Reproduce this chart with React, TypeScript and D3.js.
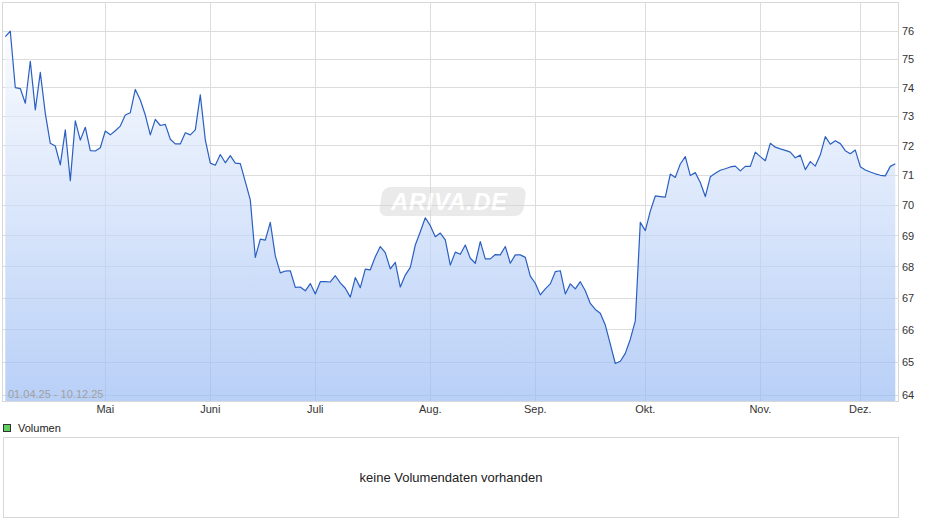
import React from "react";
import * as d3 from "d3";

// Daily closing prices (trading days), 01.04.25 - 10.12.25
const prices: number[] = [
  75.81, 76.0, 74.0, 73.97, 73.46, 74.93, 73.23, 74.54, 73.11, 72.08,
  71.99, 71.35, 72.54, 70.82, 72.85, 72.19, 72.63, 71.83, 71.82, 71.93,
  72.5, 72.37, 72.51, 72.67, 73.05, 73.13, 73.94, 73.57, 73.05, 72.37,
  72.9, 72.69, 72.73, 72.22, 72.06, 72.06, 72.44, 72.37, 72.54, 73.75,
  72.2, 71.41, 71.34, 71.7, 71.42, 71.66, 71.41, 71.39, 70.79, 70.18,
  68.3, 68.89, 68.86, 69.44, 68.35, 67.8, 67.86, 67.87, 67.34, 67.35,
  67.23, 67.46, 67.13, 67.52, 67.52, 67.51, 67.71, 67.48, 67.31, 67.03,
  67.65, 67.33, 67.92, 67.9, 68.32, 68.65, 68.45, 67.93, 68.14, 67.35,
  67.73, 67.98, 68.7, 69.13, 69.59, 69.33, 68.97, 69.09, 68.87, 68.05,
  68.47, 68.4, 68.7, 68.27, 68.11, 68.81, 68.25, 68.25, 68.39, 68.38,
  68.65, 68.11, 68.38, 68.38, 68.3, 67.7, 67.47, 67.1, 67.29, 67.45,
  67.84, 67.87, 67.13, 67.45, 67.29, 67.52, 67.23, 66.83, 66.64, 66.52,
  66.15, 65.56, 64.96, 65.03, 65.27, 65.71, 66.28, 69.44, 69.17, 69.81,
  70.31, 70.29, 70.27, 71.04, 70.93, 71.38, 71.63, 70.99, 71.09, 70.76,
  70.29, 70.95, 71.07, 71.17, 71.22, 71.28, 71.31, 71.15, 71.3, 71.3,
  71.78, 71.63, 71.49, 72.08, 71.95, 71.89, 71.84, 71.78, 71.59, 71.68,
  71.19, 71.46, 71.31, 71.69, 72.31, 72.05, 72.17, 72.07, 71.83, 71.73,
  71.85, 71.29, 71.18, 71.11, 71.05, 71.0, 70.98, 71.3, 71.39,
];

// Month labels and the trading-day index of each month's first session
const monthLabels: string[] = ["Mai", "Juni", "Juli", "Aug.", "Sep.", "Okt.", "Nov.", "Dez."];
const monthStartIdx: number[] = [20, 41, 62, 85, 106, 128, 151, 171];

// Price axis ticks (logarithmic scale)
const yTicks: number[] = [64, 65, 66, 67, 68, 69, 70, 71, 72, 73, 74, 75, 76];
const yDomain: number[] = [63.81, 77.01];

const rangeLabel = "01.04.25 - 10.12.25";
const legendLabel = "Volumen";
const noVolumeText = "keine Volumendaten vorhanden";

const FONT = "'Liberation Sans', Arial, Helvetica, sans-serif";

export default function App() {
  const W = 940;
  const H = 526;
  const L = 3, T = 3, R = 898, B = 401;

  const x = d3.scaleLinear().domain([0, prices.length - 1]).range([5.3, 895.3]);
  const y = d3.scaleLog().domain(yDomain).range([401.3, 3.3]);

  const area = d3
    .area<number>()
    .x((_, i) => x(i))
    .y0(B)
    .y1((d) => y(d));
  const line = d3
    .line<number>()
    .x((_, i) => x(i))
    .y((d) => y(d));

  const crisp = (v: number) => Math.floor(v) + 0.5;

  return (
    <svg
      width={W}
      height={H}
      viewBox={`0 0 ${W} ${H}`}
      style={{ position: "absolute", left: 0, top: 0, background: "#fff" }}
    >
      <defs>
        <linearGradient id="fillGrad" gradientUnits="userSpaceOnUse" x1="0" y1={T} x2="0" y2={B}>
          <stop offset="0" stopColor="#ffffff" />
          <stop offset="1" stopColor="#97b9f3" />
        </linearGradient>
      </defs>
      <rect x={0} y={0} width={W} height={H} fill="#fff" />

      {/* grid */}
      <g stroke="#dcdcdc" strokeWidth={1} shapeRendering="crispEdges">
        {yTicks.map((t) => (
          <line key={"h" + t} x1={L} x2={R} y1={crisp(y(t))} y2={crisp(y(t))} />
        ))}
        {monthStartIdx.map((m) => (
          <line key={"v" + m} x1={crisp(x(m))} x2={crisp(x(m))} y1={T} y2={B} />
        ))}
      </g>

      {/* watermark */}
      <g opacity={0.5}>
        <rect x={381} y={187} width={144} height={29} rx={8} ry={8} fill="#d6d6d6" transform="skewX(-8) translate(28,0)" />
        <text
          x={391}
          y={210}
          fontFamily={FONT}
          fontSize={24}
          fontWeight="bold"
          fontStyle="italic"
          fill="#ffffff"
          textLength={116}
        >
          ARIVA.DE
        </text>
      </g>

      {/* area and line */}
      <path d={area(prices) || ""} fill="url(#fillGrad)" fillOpacity={0.68} />
      <path d={line(prices) || ""} fill="none" stroke="#2a5fc2" strokeWidth={1.2} strokeLinejoin="round" />

      {/* frame */}
      <rect x={L + 0.5 - 1} y={T + 0.5 - 1} width={R - L + 1} height={B - T + 1} fill="none" stroke="#d8d8d8" shapeRendering="crispEdges" />

      {/* y labels */}
      <g fontFamily={FONT} fontSize={11} fill="#333">
        {yTicks.map((t) => (
          <text key={"yl" + t} x={902} y={y(t)} dy="0.36em">
            {t}
          </text>
        ))}
      </g>

      {/* x labels */}
      <g fontFamily={FONT} fontSize={11} fill="#333" textAnchor="middle">
        {monthStartIdx.map((m, i) => (
          <text key={"xl" + m} x={x(m)} y={413}>
            {monthLabels[i]}
          </text>
        ))}
      </g>

      <text x={8} y={398} fontFamily={FONT} fontSize={11} fill="#a0a0a0">
        {rangeLabel}
      </text>

      {/* volume legend */}
      <rect x={3.5} y={424.5} width={7} height={7} fill="#5fcf5f" stroke="#333" strokeWidth={1} shapeRendering="crispEdges" />
      <text x={18} y={432} fontFamily={FONT} fontSize={11} fill="#222">
        {legendLabel}
      </text>

      {/* volume panel */}
      <rect x={3.5} y={437.5} width={895} height={80} fill="#fff" stroke="#d8d8d8" shapeRendering="crispEdges" />
      <text x={451} y={482} fontFamily={FONT} fontSize={13} fill="#222" textAnchor="middle">
        {noVolumeText}
      </text>
    </svg>
  );
}
